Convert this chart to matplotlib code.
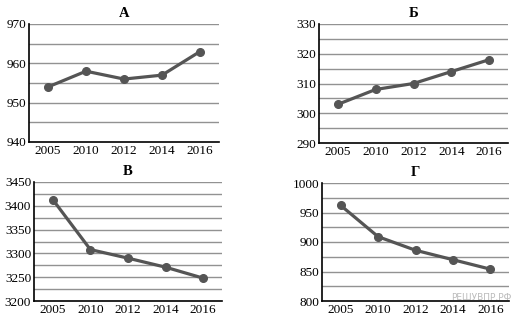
import matplotlib
matplotlib.use("Agg")
import matplotlib.pyplot as plt

years = ["2005", "2010", "2012", "2014", "2016"]

vals_a = [954, 958, 956, 957, 963]
vals_b = [303, 308, 310, 314, 318]
vals_v = [3413, 3308, 3290, 3271, 3248]
vals_g = [962, 909, 886, 870, 854]

titles = ["А", "Б", "В", "Г"]
series = [vals_a, vals_b, vals_v, vals_g]
ylims = [(940, 970, 10, 5), (290, 330, 10, 5), (3200, 3450, 50, 25), (800, 1000, 50, 25)]

# axes boxes in pixel coords (left, top, right, bottom) of a 514x322 picture
boxes = [(29, 24, 219, 142), (319, 24, 508, 143), (34, 182, 222, 301), (322, 183, 509, 301)]

plt.rcParams['font.family'] = ['Liberation Serif', 'DejaVu Serif']

W, H = 514, 322
fig = plt.figure(figsize=(W / 100, H / 100), dpi=100)

for i in range(4):
    l, t, r, b = boxes[i]
    ax = fig.add_axes([l / W, (H - b) / H, (r - l) / W, (b - t) / H])
    lo, hi, major, minor = ylims[i]
    x = list(range(len(years)))
    ax.plot(x, series[i], color="#555555", lw=2.3, marker="o", ms=5.5, zorder=3)
    ax.set_xlim(-0.5, 4.5)
    ax.set_ylim(lo, hi)
    ax.set_xticks(x)
    ax.set_xticklabels(years)
    ax.set_yticks(range(lo, hi + 1, major))
    for g in range(lo + minor, hi + 1, minor):
        ax.axhline(g, color="#929292", lw=1.0, zorder=1)
    ax.tick_params(length=0, labelsize=9.5, pad=2)
    ax.spines["top"].set_visible(False)
    ax.spines["right"].set_visible(False)
    ax.spines["left"].set_color("black")
    ax.spines["bottom"].set_color("black")
    ax.spines["left"].set_linewidth(1.2)
    ax.spines["bottom"].set_linewidth(1.2)
    ax.set_title(titles[i], fontsize=10.5, fontweight="bold", pad=5)

fig.text(512 / W, (H - 297) / H, "РЕШУВПР.РФ", fontsize=6.5, color="#bbbbbb",
         ha="right", va="center", family="DejaVu Sans")

fig.savefig("out.png", dpi=100)
